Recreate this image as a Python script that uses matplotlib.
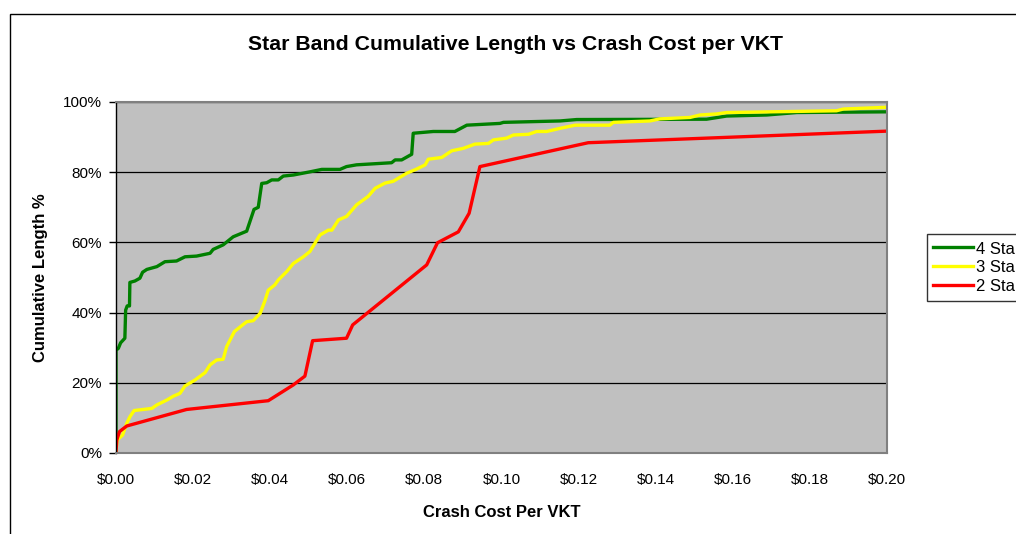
import matplotlib
matplotlib.use('Agg')
import matplotlib.pyplot as plt
from matplotlib.patches import Rectangle
from matplotlib.ticker import FuncFormatter, MultipleLocator

plt.rcParams['font.family'] = ['Liberation Sans', 'DejaVu Sans']

# Star band cumulative length curves (x = crash cost per VKT in $, y = cumulative %)
star4_x = [0, 0, 0.0006, 0.0012, 0.0023, 0.0025, 0.0029, 0.0035, 0.0036, 0.0049, 0.0062,
           0.0069, 0.0080, 0.0106, 0.0127, 0.0157, 0.0179, 0.0209, 0.0244, 0.0252, 0.0278,
           0.0304, 0.0339, 0.0358, 0.0369, 0.0378, 0.0391, 0.0404, 0.0421, 0.0434, 0.0460,
           0.0503, 0.0534, 0.0581, 0.0598, 0.0624, 0.0715, 0.0724, 0.0741, 0.0767, 0.0771,
           0.0823, 0.0879, 0.0910, 0.0996, 0.1005, 0.1152, 0.1195, 0.1532, 0.1584, 0.1688,
           0.1766, 0.2]
star4_y = [4.8, 29.3, 29.8, 31.4, 32.7, 40.7, 41.9, 41.9, 48.6, 49.0, 49.8,
           51.5, 52.3, 53.1, 54.5, 54.7, 55.9, 56.1, 56.9, 58.0, 59.3,
           61.6, 63.2, 69.4, 70.0, 76.8, 77.0, 77.8, 77.8, 78.9, 79.2,
           80.1, 80.8, 80.8, 81.6, 82.1, 82.7, 83.5, 83.5, 85.1, 91.1,
           91.6, 91.6, 93.4, 93.9, 94.2, 94.6, 95.0, 95.1, 96.0, 96.3,
           97.0, 97.2]

star3_x = [0, 0.0003, 0.0017, 0.0028, 0.0036, 0.0047, 0.0093, 0.0106, 0.0132, 0.0149,
           0.0166, 0.0179, 0.0205, 0.0231, 0.0244, 0.0261, 0.0278, 0.0287, 0.0307, 0.0339,
           0.0356, 0.0374, 0.0387, 0.0395, 0.0412, 0.0421, 0.0443, 0.0460, 0.0486, 0.0503,
           0.0529, 0.0551, 0.0560, 0.0577, 0.0598, 0.0624, 0.0654, 0.0672, 0.0698, 0.0719,
           0.0754, 0.0780, 0.0802, 0.0810, 0.0845, 0.0871, 0.0901, 0.0931, 0.0966, 0.0979,
           0.1013, 0.1031, 0.1070, 0.1091, 0.1117, 0.1152, 0.1191, 0.1281, 0.1290, 0.1385,
           0.1411, 0.1489, 0.1515, 0.1558, 0.1584, 0.1869, 0.1887, 0.2]
star3_y = [0.4, 3.7, 5.1, 8.5, 10.3, 12.1, 12.7, 13.7, 15.1, 16.2,
           17.0, 19.1, 20.8, 22.9, 25.1, 26.5, 26.7, 30.3, 34.6, 37.4,
           37.7, 39.8, 43.6, 46.4, 47.9, 49.3, 51.7, 54.0, 55.9, 57.4,
           62.1, 63.5, 63.5, 66.4, 67.4, 70.7, 73.1, 75.4, 76.9, 77.4,
           79.7, 80.9, 82.1, 83.7, 84.2, 86.1, 86.8, 88.0, 88.2, 89.2,
           89.7, 90.6, 90.8, 91.6, 91.6, 92.5, 93.4, 93.4, 94.2, 94.6,
           95.2, 95.6, 96.3, 96.6, 97.0, 97.5, 98.0, 98.5]

star2_x = [0, 0.0002, 0.0009, 0.0028, 0.0183, 0.0395, 0.0460, 0.0490, 0.0510, 0.0598,
           0.0614, 0.0806, 0.0834, 0.0888, 0.0916, 0.0944, 0.1225, 0.2]
star2_y = [0.4, 3.7, 6.1, 7.7, 12.4, 14.9, 19.4, 21.9, 32.0, 32.7,
           36.5, 53.6, 59.9, 63.0, 68.3, 81.6, 88.4, 91.7]

series_labels = ['4 Star', '3 Star', '2 Star']
series_colors = ['#008000', '#FFFF00', '#FF0000']

W, H = 1016, 534
fig = plt.figure(figsize=(W / 100, H / 100), dpi=100)
ax = fig.add_axes([116 / W, 1 - 453 / H, (887 - 116) / W, (453 - 102) / H])
ax.set_facecolor('#C0C0C0')

for xs, ys, lab, col in zip([star4_x, star3_x, star2_x], [star4_y, star3_y, star2_y],
                            series_labels, series_colors):
    ax.plot(xs, ys, color=col, linewidth=2.4, label=lab, solid_joinstyle='round')

ax.set_xlim(0, 0.2)
ax.set_ylim(0, 100)
ax.xaxis.set_major_locator(MultipleLocator(0.02))
ax.yaxis.set_major_locator(MultipleLocator(20))
ax.xaxis.set_major_formatter(FuncFormatter(lambda v, p: f'${v:.2f}'))
ax.yaxis.set_major_formatter(FuncFormatter(lambda v, p: f'{v:.0f}%'))
ax.tick_params(axis='x', length=0, pad=14.5, labelsize=11)
ax.tick_params(axis='y', length=5, width=1, direction='out', pad=5, labelsize=11)
ax.grid(axis='y', color='black', linewidth=0.9)
ax.set_axisbelow(True)

for side in ['top', 'right', 'bottom']:
    ax.spines[side].set_color('#808080')
    ax.spines[side].set_linewidth(1.5)
ax.spines['left'].set_color('black')
ax.spines['left'].set_linewidth(1)

ax.set_xlabel('Crash Cost Per VKT', fontsize=12, fontweight='bold', labelpad=13)
ax.set_ylabel('Cumulative Length %', fontsize=12, fontweight='bold', labelpad=11)
fig.text(516 / W, 1 - 45 / H, 'Star Band Cumulative Length vs Crash Cost per VKT',
         ha='center', va='center', fontsize=15.3, fontweight='bold')

# legend runs off the right edge, as in the original chart
leg = fig.legend(loc='upper left', bbox_to_anchor=(926.5 / W, 1 - 234 / H),
                 fontsize=12, frameon=True, fancybox=False, handlelength=2.4,
                 handleheight=1.0, handletextpad=0.15, labelspacing=0.15,
                 borderpad=0.4, borderaxespad=0)
leg.get_frame().set_edgecolor('black')
leg.get_frame().set_linewidth(1)

# outer chart border (extends past the right and bottom edges)
fig.patches.append(Rectangle((9.5 / W, -0.2), 1.5, 1 - 14 / H + 0.2, transform=fig.transFigure,
                             fill=False, edgecolor='black', linewidth=1))

fig.savefig('out.png', dpi=100)
